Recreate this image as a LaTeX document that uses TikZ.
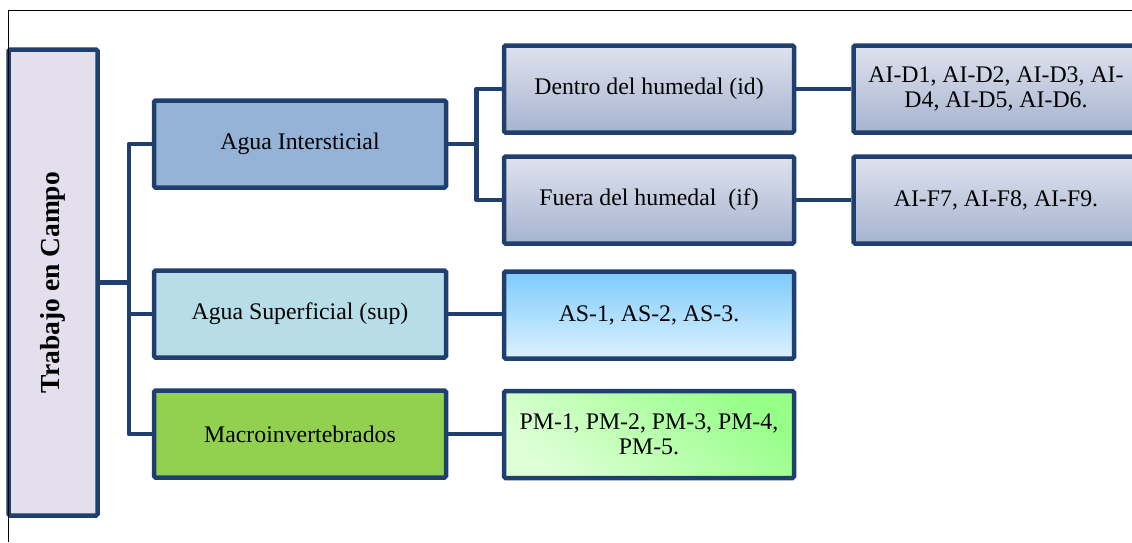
\documentclass[tikz,border=0pt]{standalone}
\usepackage{fontspec}
\setmainfont{Liberation Serif}
\definecolor{bordc}{RGB}{31,64,110}
\definecolor{lav}{RGB}{228,223,236}
\definecolor{aiblue}{RGB}{149,179,215}
\definecolor{supblue}{RGB}{183,222,232}
\definecolor{macgreen}{RGB}{146,208,80}
\definecolor{gtop}{RGB}{222,226,238}
\definecolor{gbot}{RGB}{166,180,207}
\definecolor{stop}{RGB}{124,203,251}
\definecolor{sbot}{RGB}{222,241,255}
\definecolor{ptop}{RGB}{150,255,136}
\definecolor{pbot}{RGB}{222,255,214}
\tikzset{
  box/.style={draw=bordc, line width=4.5pt, rounded corners=1.5pt, minimum width=292pt, minimum height=87pt, inner sep=2pt, align=center, font=\fontsize{23.8}{25}\selectfont},
  grayg/.style={box, top color=gtop, bottom color=gbot},
  conn/.style={draw=bordc, line width=4.5pt, line join=round}
}
\begin{document}
\begin{tikzpicture}[x=1pt,y=-1pt]
\useasboundingbox (0,0) rectangle (1132,542);
\clip (0,0) rectangle (1132,542);
% nodes
\node[box, fill=lav, minimum width=89pt, minimum height=466pt] (main) at (53,282.5) {};
\node[rotate=90, font=\bfseries\fontsize{27.5}{30}\selectfont] (title) at (main.center) {Trabajo en Campo};
\node[box, fill=aiblue] (ai) at (300,144) {Agua Intersticial};
\node[box, fill=supblue] (sup) at (300,314) {Agua Superficial (sup)};
\node[box, fill=macgreen] (mac) at (300,434) {Macroinvertebrados};
\node[grayg, minimum width=290pt] (den) at (649,89) {Dentro del humedal (id)};
\node[grayg, minimum width=290pt] (fue) at (649,200) {Fuera del humedal~ (if)};
\node[box, minimum width=290pt, top color=stop, bottom color=sbot] (asv) at (649,315) {AS-1, AS-2, AS-3.};
\node[box, minimum width=290pt, shading=axis, top color=ptop, bottom color=pbot, shading angle=-40] (pmv) at (649,434.5) {PM-1, PM-2, PM-3, PM-4,\\PM-5.};
\node[grayg, minimum width=285pt] (aid) at (996,89) {AI-D1, AI-D2, AI-D3, AI-\\D4, AI-D5, AI-D6.};
\node[grayg, minimum width=285pt] (aif) at (996,200) {AI-F7, AI-F8, AI-F9.};
% connectors
\draw[conn] (main.east) -- ++(29,0) coordinate (j1);
\draw[conn] (ai.west) -| (j1) |- (mac.west);
\draw[conn] (j1) |- (sup.west);
\draw[conn] (ai.east) -- ++(28,0) coordinate (j2);
\draw[conn] (den.west) -| (j2) |- (fue.west);
\draw[conn] (den.east) -- (aid.west);
\draw[conn] (fue.east) -- (aif.west);
\draw[conn] (sup.east) -- (sup.east -| asv.west);
\draw[conn] (mac.east) -- (mac.east -| pmv.west);
% frame
\coordinate (fc) at (8.3,10.7);
\coordinate (fr) at (1132,10.7);
\coordinate (fb) at (8.3,542);
\draw[black, line width=1.2pt] (fb) -- (fc) -- (fr);
\end{tikzpicture}
\end{document}
